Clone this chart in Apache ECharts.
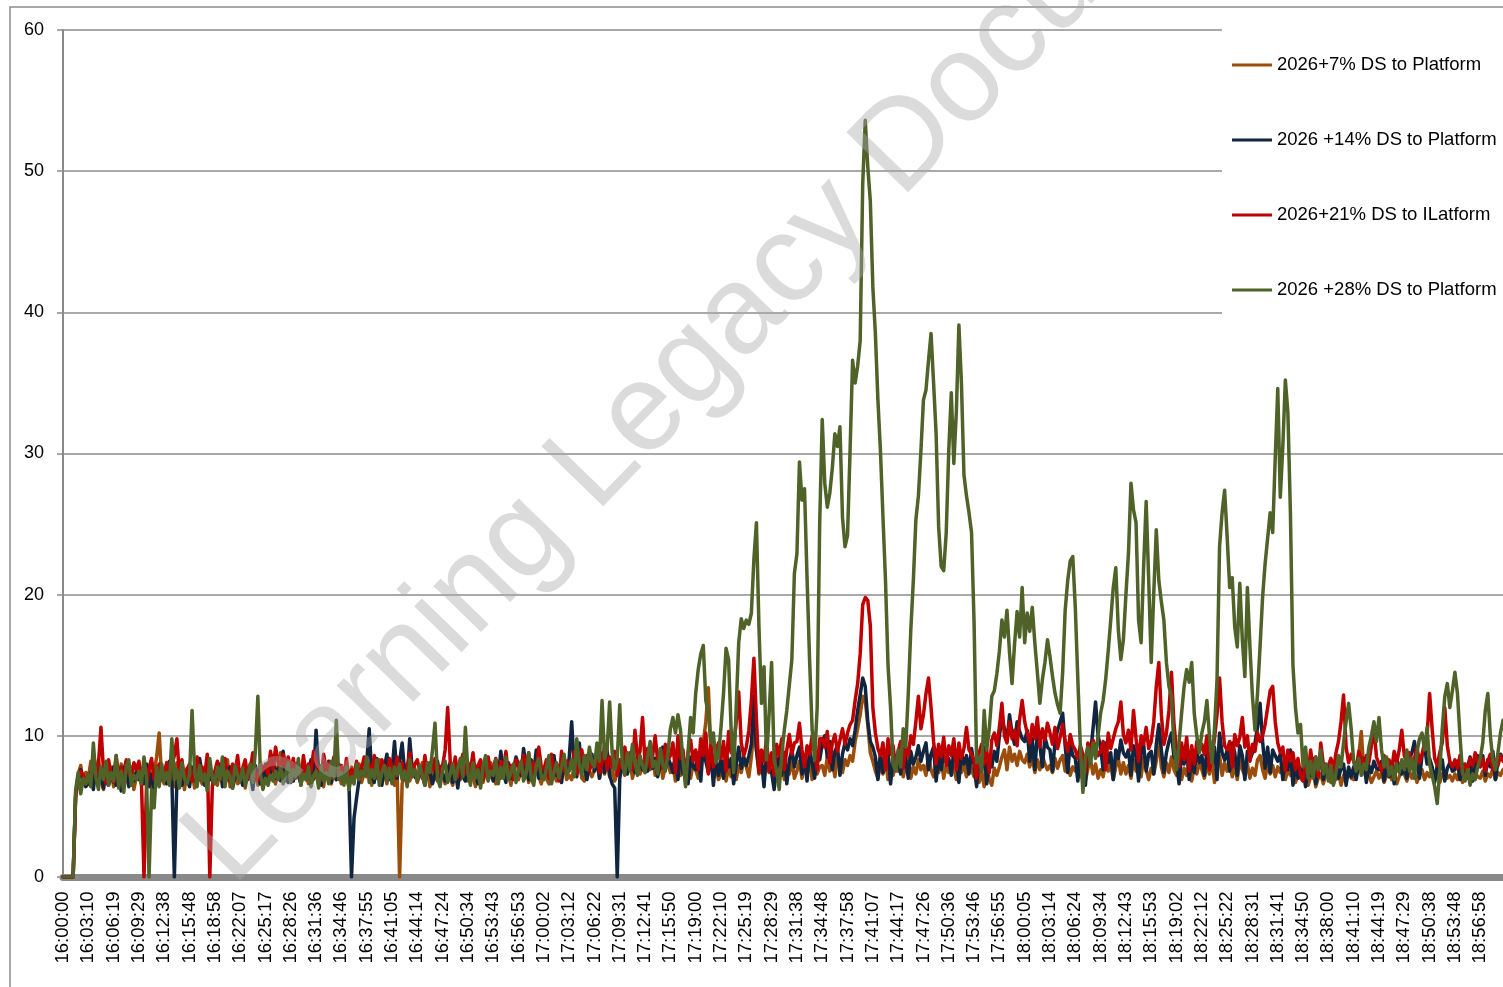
<!DOCTYPE html>
<html>
<head>
<meta charset="utf-8">
<title>DS to Platform</title>
<script src="https://cdn.jsdelivr.net/npm/echarts@6/dist/echarts.min.js"></script>
<style>
  html, body { margin: 0; padding: 0; background: #ffffff; }
  #chart { width: 1503px; height: 987px; }
</style>
</head>
<body>
<div id="chart"></div>
<script>
// Time-axis tick labels, one every ten samples
const timeLabels = [
  '16:00:00','16:03:10','16:06:19','16:09:29','16:12:38','16:15:48','16:18:58','16:22:07','16:25:17','16:28:26',
  '16:31:36','16:34:46','16:37:55','16:41:05','16:44:14','16:47:24','16:50:34','16:53:43','16:56:53','17:00:02',
  '17:03:12','17:06:22','17:09:31','17:12:41','17:15:50','17:19:00','17:22:10','17:25:19','17:28:29','17:31:38',
  '17:34:48','17:37:58','17:41:07','17:44:17','17:47:26','17:50:36','17:53:46','17:56:55','18:00:05','18:03:14',
  '18:06:24','18:09:34','18:12:43','18:15:53','18:19:02','18:22:12','18:25:22','18:28:31','18:31:41','18:34:50',
  '18:38:00','18:41:10','18:44:19','18:47:29','18:50:38','18:53:48','18:56:58'
];
const samplesPerLabel = 10;

const seriesNames = [
  '2026+7% DS to Platform',
  '2026 +14% DS to Platform',
  '2026+21% DS to ILatform',
  '2026 +28% DS to Platform'
];

// 2026 +7%
const ds07 = [
  0,0,0,0,0,5.7,7.3,7.9,6.6,7.4,
  7.0,8.2,6.5,7.6,8.3,6.9,6.2,7.4,6.8,7.8,
  6.4,7.5,6.9,8.0,6.3,7.2,6.6,7.8,6.2,7.1,
  7.6,6.5,7.2,6.8,7.9,6.3,7.4,8.5,10.2,7.0,
  6.6,7.8,6.9,7.3,6.4,8.1,6.8,7.5,6.2,7.7,
  6.9,7.5,6.3,8.0,7.1,6.6,7.7,6.4,7.3,6.8,
  7.4,6.5,7.9,6.7,7.2,8.3,6.4,7.0,7.7,6.6,
  6.8,7.6,6.3,7.4,8.0,6.7,7.3,6.5,7.8,7.0,
  7.5,6.9,8.2,7.1,6.6,7.9,8.8,7.2,6.8,7.6,
  6.7,7.4,7.0,8.1,6.5,7.8,7.2,6.6,7.5,6.9,
  7.3,6.8,7.7,6.4,7.9,7.1,6.6,7.6,6.9,7.4,
  6.6,7.5,7.0,6.4,7.8,6.9,7.3,8.0,6.7,7.4,
  7.1,7.8,6.5,7.6,7.0,8.3,6.8,7.4,6.6,7.9,
  7.2,6.5,7.6,0,6.6,7.4,8.0,6.8,7.3,7.7,
  6.7,7.3,8.1,6.9,7.5,6.4,7.9,7.1,6.8,7.6,
  7.4,6.6,7.8,7.0,6.5,7.7,7.2,6.9,8.0,7.3,
  6.8,7.5,7.1,6.4,7.9,7.2,6.7,7.6,7.0,8.1,
  7.3,6.6,7.7,7.0,8.2,6.9,7.4,6.5,7.8,7.1,
  6.9,7.6,7.2,8.0,6.7,7.4,6.9,7.8,7.1,6.6,
  7.5,7.0,6.6,7.9,7.3,6.8,7.7,7.2,8.1,6.9,
  7.2,6.9,7.8,7.4,8.3,7.0,6.8,8.0,7.5,7.1,
  7.6,8.2,7.0,7.9,7.3,8.5,7.1,7.7,6.8,7.4,
  7.5,8.0,7.2,7.8,8.4,7.0,7.7,8.2,7.3,7.9,
  7.4,8.1,7.6,8.5,7.2,7.9,8.3,7.0,7.8,8.2,
  7.4,8.0,6.8,7.6,7.2,8.4,6.7,7.8,7.0,8.0,
  7.6,7.0,8.2,9.5,11.0,13.4,9.0,7.1,7.9,6.9,
  7.3,8.2,6.8,7.8,7.1,8.6,6.9,7.9,7.4,8.3,
  7.8,7.1,8.5,10.5,9.0,7.3,8.0,7.0,8.3,7.4,
  7.6,6.8,8.2,7.2,8.6,6.9,7.9,7.3,8.3,7.0,
  7.5,8.2,7.0,7.9,7.2,8.5,6.9,8.1,7.3,7.8,
  7.9,7.2,8.5,7.5,8.2,7.1,8.6,7.8,7.4,8.3,
  7.9,8.6,8.2,9.6,10.5,11.5,12.8,12.5,10.8,8.8,
  8.2,7.5,7.0,8.0,7.3,8.4,6.9,7.8,7.2,8.1,
  7.5,8.2,7.1,7.9,8.5,7.0,7.8,7.3,8.3,7.6,
  7.9,7.2,8.6,7.6,7.1,8.1,7.4,8.4,7.0,7.9,
  7.4,8.2,7.7,6.9,8.5,7.4,8.0,7.1,8.3,7.6,
  7.1,7.8,6.7,7.5,6.4,8.0,6.9,6.5,7.7,7.2,
  7.8,8.5,9.0,7.6,9.2,8.2,8.7,7.9,8.9,8.3,
  8.1,8.7,7.8,8.5,7.4,8.3,7.6,8.6,8.0,7.6,
  7.9,7.4,8.4,7.7,8.3,8.6,7.5,8.1,7.2,7.8,
  7.5,8.1,7.1,7.8,6.8,7.7,8.3,7.3,8.0,7.0,
  7.6,7.1,8.2,7.5,8.0,6.9,7.8,8.4,7.3,8.1,
  7.3,7.9,7.0,8.3,7.5,8.0,7.1,8.5,7.6,6.9,
  7.7,7.3,8.2,9.8,7.8,7.1,8.1,7.4,8.5,7.6,
  7.2,7.9,6.9,7.7,7.2,8.2,6.8,7.8,7.3,8.1,
  7.6,7.0,8.0,7.3,8.3,6.7,7.8,8.6,7.2,8.1,
  7.5,8.2,7.1,7.9,6.9,8.4,7.6,7.2,8.0,7.0,
  7.7,7.2,8.3,8.6,7.6,7.0,8.1,7.3,7.9,7.1,
  7.8,7.4,8.1,6.9,7.6,7.2,8.0,6.7,7.3,7.0,
  6.8,7.4,6.5,7.1,7.7,6.4,7.0,7.3,6.6,7.2,
  7.1,6.7,7.5,6.9,7.4,6.5,7.2,6.8,7.6,7.0,
  6.9,7.4,8.6,10.3,7.5,7.0,7.3,6.7,7.1,7.5,
  7.0,7.4,6.7,7.2,7.6,6.9,7.3,6.6,7.1,7.5,
  7.3,6.8,7.5,7.0,7.4,6.7,7.2,7.6,6.9,7.4,
  7.1,7.7,6.9,7.4,6.7,7.3,7.5,7.0,7.2,6.8,
  7.3,6.9,7.6,6.7,7.2,7.0,7.5,6.8,7.4,7.1,
  7.0,7.5,6.8,7.3,7.1,7.7,6.9,7.4,7.2,7.6
];

// 2026 +14%
const ds14 = [
  0,0,0,0,0,5.9,6.8,7.6,7.0,6.4,
  6.6,7.4,6.2,7.9,6.7,7.2,6.3,8.1,6.5,7.0,
  7.8,6.5,7.3,6.1,7.6,8.2,6.4,7.1,6.8,7.5,
  6.9,7.7,6.6,8.0,6.4,7.3,6.1,7.8,6.7,7.2,
  7.5,6.6,8.2,7.0,0,6.8,7.9,6.5,7.4,6.9,
  6.4,7.8,7.0,6.6,8.4,7.2,6.5,7.6,6.9,7.4,
  6.7,7.3,8.0,6.4,7.6,6.9,7.8,6.3,7.1,7.9,
  7.2,6.5,7.7,6.9,7.4,6.2,7.9,7.1,6.6,7.5,
  6.9,8.1,7.4,8.6,7.0,7.7,6.8,8.9,7.3,6.7,
  7.4,6.8,8.0,7.2,6.6,7.9,6.9,7.5,8.3,7.0,
  10.4,7.6,6.5,7.8,7.1,8.2,6.7,7.4,6.9,8.0,
  7.3,6.8,7.5,6.6,0,4.2,5.6,6.9,7.8,7.2,
  8.1,10.5,7.2,6.7,8.4,7.0,6.5,7.8,8.7,6.9,
  7.5,9.6,7.0,8.2,9.5,7.4,6.8,9.8,7.6,7.1,
  6.9,7.7,7.2,6.5,8.0,7.4,6.6,7.3,8.2,7.0,
  7.3,6.8,7.6,8.1,6.7,7.5,6.3,7.9,7.1,6.8,
  7.6,6.9,8.2,7.3,6.6,7.8,7.0,8.4,6.9,7.5,
  6.8,8.3,7.1,8.9,7.4,6.7,8.1,7.0,7.6,8.5,
  7.9,7.2,9.1,7.6,6.9,8.3,7.4,9.0,7.0,7.7,
  7.3,8.0,7.5,6.8,8.6,7.2,7.9,6.7,8.2,7.6,
  8.4,11.0,7.8,7.1,9.5,7.6,8.2,6.9,7.9,8.7,
  7.5,8.3,7.0,8.8,7.4,9.0,7.2,6.6,6.3,0,
  7.0,7.9,8.5,7.3,8.0,8.8,7.4,7.9,8.3,7.6,
  8.2,7.5,8.9,7.7,8.4,7.1,8.0,9.2,7.6,8.5,
  8.0,7.4,8.6,6.9,9.1,7.3,8.2,6.6,8.5,7.8,
  7.6,8.8,6.8,9.3,8.2,7.4,8.7,6.5,8.5,7.2,
  8.3,7.0,8.9,7.8,8.4,6.6,8.0,9.2,7.7,8.5,
  7.9,8.6,9.4,12.8,9.0,7.6,8.3,6.4,8.8,7.7,
  7.4,6.2,7.9,8.5,7.2,8.8,6.6,8.3,9.0,7.8,
  8.6,9.2,7.3,8.4,6.8,9.0,8.1,7.0,8.8,8.3,
  9.4,10.0,8.5,9.6,7.6,8.9,9.3,7.2,8.7,9.5,
  9.0,9.8,9.3,10.4,11.8,12.9,14.1,13.5,11.0,9.6,
  9.2,8.5,6.9,8.8,7.4,8.2,9.0,6.6,8.4,7.9,
  8.6,7.3,9.1,8.3,7.0,8.9,8.0,8.5,9.3,8.2,
  8.9,9.5,7.6,8.7,9.2,6.8,8.5,7.6,8.8,8.1,
  8.4,7.2,9.0,8.3,6.7,8.8,8.0,8.6,7.3,9.1,
  7.9,6.4,8.4,7.5,9.2,6.6,8.6,7.8,8.9,8.2,
  10.0,11.2,10.5,9.6,11.5,10.2,9.4,11.0,10.3,9.8,
  9.6,10.4,8.2,9.8,7.6,10.1,9.3,7.8,9.9,9.2,
  9.0,7.5,9.6,10.4,11.0,11.6,9.3,7.4,9.5,8.6,
  8.4,6.8,8.9,8.2,6.5,9.4,8.7,10.5,12.4,10.0,
  9.2,7.6,9.5,8.1,8.8,6.9,9.0,8.4,9.7,8.8,
  8.5,9.0,7.2,9.3,8.6,6.8,8.8,9.4,7.5,8.7,
  8.9,7.3,9.4,10.8,9.0,7.4,8.8,9.6,10.2,8.5,
  8.2,6.6,8.7,8.0,9.1,6.9,8.5,7.4,8.9,8.1,
  8.6,7.2,9.0,7.7,8.4,9.2,6.9,10.2,8.8,8.3,
  9.0,7.5,9.5,8.8,7.2,9.3,8.6,6.9,8.9,8.3,
  8.8,9.5,10.6,12.3,9.6,7.7,9.2,7.4,9.0,8.6,
  8.2,8.7,6.9,8.4,7.6,9.0,6.5,8.1,7.0,7.7,
  7.5,6.4,7.9,7.2,8.4,6.6,7.6,8.8,6.9,7.9,
  7.2,7.9,6.6,8.3,7.0,7.7,8.0,6.5,7.8,7.1,
  7.8,6.9,8.1,7.6,8.4,6.7,7.9,7.4,8.2,7.7,
  7.6,8.2,6.8,7.9,7.1,8.0,6.6,8.4,7.7,7.3,
  7.9,7.0,8.3,8.8,9.6,8.2,7.0,8.6,9.2,8.0,
  8.4,7.8,6.7,7.9,7.6,8.3,6.8,7.7,8.1,7.5,
  7.6,8.2,6.9,8.0,7.1,7.8,8.5,6.8,7.9,8.6,
  8.0,8.6,7.2,8.3,7.8,8.9,6.9,8.2,8.7,8.4
];

// 2026 +21%
const ds21 = [
  0,0,0,0,0,5.8,6.9,7.5,7.2,6.6,
  7.3,6.8,8.4,7.1,8.0,10.6,7.5,6.6,8.3,7.2,
  6.7,8.6,7.0,7.8,6.5,8.3,7.4,6.9,8.1,7.6,
  8.2,6.8,0,6.5,7.7,8.4,6.9,7.5,8.0,7.1,
  7.4,8.1,6.7,7.9,8.6,9.8,7.2,8.3,6.9,7.6,
  8.0,6.8,7.6,8.5,6.9,7.8,7.2,8.7,0,6.4,
  7.5,8.2,6.9,7.8,8.4,7.1,6.8,8.0,7.4,8.6,
  6.9,7.7,8.3,7.0,7.6,8.8,7.2,6.8,8.1,7.5,
  8.0,7.3,8.9,7.6,9.2,8.1,7.4,8.7,7.8,8.5,
  7.6,8.4,7.1,7.9,6.8,8.6,7.3,8.0,7.5,8.9,
  8.2,7.4,6.9,8.7,7.6,8.1,7.0,8.5,7.7,7.2,
  7.9,7.1,8.4,6.8,7.6,7.3,8.2,6.9,7.7,8.5,
  7.4,8.0,7.2,8.6,7.5,6.9,8.3,7.7,7.0,8.4,
  7.8,7.0,8.5,7.4,8.1,6.9,7.7,8.8,7.3,8.0,
  8.3,7.5,7.0,8.6,7.3,8.1,7.6,8.4,7.1,7.8,
  7.9,9.0,12.0,8.2,7.4,8.5,7.1,7.8,8.7,7.3,
  8.1,7.5,8.8,7.2,7.9,8.3,6.9,7.6,8.5,7.4,
  7.7,8.4,7.0,8.2,7.5,8.9,7.3,7.9,6.9,8.3,
  8.0,7.4,8.6,7.9,8.8,7.2,8.1,7.6,9.2,7.8,
  7.6,8.3,7.0,8.7,7.4,8.0,6.8,8.9,7.5,8.2,
  8.1,7.7,8.9,7.3,8.4,9.0,7.8,8.6,7.5,8.2,
  7.9,8.7,7.4,8.1,9.3,7.6,8.5,7.8,8.9,7.2,
  8.3,7.7,9.2,8.0,8.8,7.6,10.4,8.4,8.9,11.3,
  8.0,9.1,7.8,8.6,10.0,8.2,8.9,7.7,9.4,8.3,
  8.6,9.5,7.4,10.0,8.4,9.0,7.1,8.8,9.7,8.2,
  9.0,7.6,9.8,8.6,10.2,7.3,9.4,7.8,8.9,9.5,
  8.4,9.6,7.5,10.3,8.8,9.2,11.0,13.1,9.5,8.6,
  9.2,10.4,12.5,15.5,11.2,7.4,9.0,8.2,9.8,7.5,
  8.8,7.2,9.4,8.6,9.8,7.6,9.0,10.1,8.7,9.5,
  9.6,10.9,9.0,7.8,9.3,8.7,10.0,9.1,7.6,9.8,
  9.8,9.2,10.3,8.1,9.5,10.1,8.9,9.7,10.5,9.4,
  10.2,10.8,11.1,12.5,13.7,15.8,19.3,19.8,19.6,17.8,
  12.0,10.2,9.1,8.6,9.5,7.6,9.8,8.7,9.3,7.8,
  8.9,9.6,7.7,9.2,8.6,10.0,9.4,11.0,12.8,10.5,
  11.5,13.0,14.1,12.0,9.6,8.0,9.4,8.5,9.9,7.9,
  9.3,8.6,9.8,7.6,9.5,8.4,9.1,10.6,9.0,8.7,
  8.2,7.0,8.8,9.4,8.0,9.0,7.4,9.7,10.2,9.3,
  10.6,12.3,10.0,9.5,11.0,9.8,10.4,9.3,11.2,12.5,
  11.0,10.2,9.5,10.8,9.8,11.3,9.2,10.5,9.7,10.9,
  10.2,9.4,10.6,9.1,9.9,10.8,9.6,8.9,10.1,9.3,
  9.0,8.4,9.3,8.7,7.4,9.5,8.8,9.7,9.2,8.6,
  8.9,9.6,7.6,10.2,9.1,9.8,10.5,11.0,12.4,10.1,
  9.5,10.4,9.0,11.8,9.8,8.2,10.0,9.4,10.6,9.1,
  9.6,11.0,13.5,15.2,11.5,9.4,10.2,11.8,14.5,10.8,
  9.0,7.8,9.5,8.3,9.9,7.5,9.3,8.0,9.6,8.9,
  9.4,8.7,10.0,7.6,8.5,9.8,11.5,14.1,11.0,9.3,
  9.0,9.6,7.8,10.1,9.3,9.9,11.3,9.2,10.0,8.2,
  9.4,8.9,10.2,9.6,10.0,10.8,12.0,13.2,13.5,11.0,
  9.5,8.8,9.2,7.5,9.0,8.2,8.8,7.6,8.4,7.2,
  6.8,8.1,7.4,9.0,7.6,8.5,7.1,9.5,8.0,7.5,
  7.9,8.4,7.5,8.8,9.6,11.0,12.9,9.2,8.1,8.7,
  8.2,7.6,8.9,8.4,7.9,8.6,8.1,9.3,10.6,8.5,
  8.0,7.5,8.6,7.8,8.3,7.6,8.9,8.1,9.0,10.4,
  8.6,8.0,8.8,7.7,8.4,9.2,8.1,8.7,9.5,10.0,
  13.0,10.5,8.4,7.9,8.8,9.5,12.0,9.3,8.2,7.8,
  8.3,7.7,8.6,7.3,8.0,7.6,8.4,7.9,8.8,8.1,
  7.8,8.4,7.5,8.2,8.7,7.6,8.3,7.9,8.6,8.2
];

// 2026 +28%
const ds28 = [
  0,0,0,0,0,6.2,7.4,5.9,7.0,6.6,
  7.3,6.4,9.5,7.0,6.2,7.8,6.9,8.2,6.5,7.4,
  6.8,8.6,6.3,7.5,6.0,7.8,8.3,6.5,7.2,6.9,
  7.5,6.6,8.5,7.0,0,6.2,4.9,7.8,6.4,8.0,
  6.8,7.4,6.5,9.8,6.9,7.6,6.3,8.1,7.0,6.6,
  7.2,11.8,7.5,6.4,7.9,6.8,7.3,6.1,8.4,7.0,
  6.6,7.8,6.9,8.5,6.4,7.5,7.1,6.3,7.9,7.2,
  6.8,7.7,6.5,7.3,8.0,6.7,8.9,12.8,7.4,6.2,
  7.0,6.5,7.2,6.8,7.5,6.9,7.8,6.6,7.3,8.1,
  6.7,7.6,7.1,8.4,6.5,7.3,6.9,7.8,6.4,7.2,
  7.5,6.3,7.9,6.8,7.4,6.6,8.2,7.0,11.1,6.9,
  7.4,6.5,7.8,6.2,7.1,6.6,8.0,6.9,7.5,7.2,
  8.5,6.7,7.6,7.0,8.3,6.5,7.4,7.9,6.8,7.7,
  6.6,7.8,7.2,8.0,6.9,7.5,6.4,8.3,7.1,7.6,
  6.8,7.9,7.2,6.5,8.1,7.4,9.0,10.9,7.0,6.4,
  7.6,8.2,6.7,7.3,8.0,6.9,7.7,8.4,7.1,10.6,
  7.4,6.5,8.1,7.0,7.6,6.3,7.9,8.6,6.8,7.5,
  7.2,8.3,6.6,7.8,7.0,8.5,6.9,7.4,8.0,6.7,
  7.6,8.2,6.8,7.3,8.8,7.0,6.5,7.9,8.4,7.1,
  6.9,7.7,8.6,6.6,7.4,8.1,7.0,7.8,8.7,7.3,
  7.5,8.3,7.1,9.8,8.0,7.2,8.6,7.6,9.2,8.1,
  7.8,9.5,8.2,12.5,8.4,9.0,12.4,8.8,7.6,8.3,
  12.2,8.0,7.3,8.8,7.6,9.4,8.1,7.2,8.6,7.9,
  7.4,8.5,9.6,7.8,8.2,7.3,9.1,8.0,7.5,8.7,
  10.5,11.3,10.2,11.5,10.4,8.2,6.4,8.9,11.3,10.2,
  13.0,14.7,15.8,16.4,12.5,11.6,9.5,10.2,8.1,8.6,
  10.6,13.0,16.2,15.4,10.5,7.4,12.0,16.6,18.3,17.6,
  18.2,17.9,18.7,22.5,25.1,17.7,12.3,14.9,8.3,11.5,
  15.2,8.3,7.5,6.2,8.6,10.4,11.8,13.6,15.4,21.5,
  22.9,29.4,26.7,27.5,21.2,15.4,10.5,8.3,12.0,25.1,
  32.4,27.9,26.2,27.2,29.0,31.4,30.5,31.9,25.5,23.4,
  24.2,30.2,36.6,35.0,36.2,38.0,49.1,53.6,50.3,47.9,
  41.8,38.5,33.8,30.2,25.5,21.0,15.0,12.0,8.0,7.5,
  9.0,7.8,10.5,9.2,13.0,17.5,21.0,25.3,27.0,30.2,
  33.8,34.5,36.6,38.5,35.0,31.4,24.8,22.0,21.7,24.4,
  30.2,34.3,29.3,33.0,39.1,35.0,28.5,27.0,25.8,24.4,
  18.0,8.1,8.5,7.5,11.8,9.0,10.5,12.8,13.2,14.4,
  16.0,18.2,17.0,18.9,15.9,13.7,16.5,18.8,17.0,20.5,
  16.6,18.7,17.4,19.1,16.6,14.5,12.3,14.0,15.2,16.8,
  15.6,14.2,13.0,12.2,11.6,14.5,18.9,21.0,22.4,22.7,
  19.1,14.0,9.2,6.0,8.5,9.2,8.0,9.5,8.4,10.0,
  11.6,12.5,14.0,16.0,18.2,20.5,21.9,17.5,15.4,16.8,
  20.0,22.9,27.9,26.0,25.1,18.2,16.6,22.0,26.6,21.0,
  15.2,20.1,24.6,21.0,19.5,18.2,15.2,13.5,12.8,9.2,
  7.6,9.5,11.6,13.5,14.7,13.8,15.2,11.6,10.0,8.8,
  10.2,11.0,12.5,10.0,8.1,10.5,14.0,23.4,25.8,27.4,
  24.1,20.5,21.2,17.7,16.3,20.8,16.8,14.2,20.5,16.3,
  12.8,10.4,13.0,16.3,19.8,22.2,24.0,25.8,24.4,29.7,
  34.6,26.9,30.5,35.2,32.9,25.8,15.0,12.0,10.2,10.8,
  7.8,9.2,7.0,8.2,7.0,8.5,7.6,9.0,7.3,8.0,
  6.8,7.9,6.5,7.4,8.6,7.8,9.5,11.0,12.3,10.5,
  8.2,7.5,8.4,7.2,8.0,7.6,9.2,10.0,11.0,9.6,
  11.3,9.0,7.8,8.5,7.2,7.8,6.9,8.0,7.4,8.3,
  7.6,9.0,7.5,8.4,7.0,8.8,9.8,10.2,9.0,10.6,
  8.0,7.2,6.4,5.2,7.5,10.5,12.8,13.7,12.0,13.2,
  14.5,13.0,10.0,7.4,6.8,7.6,6.5,7.3,6.9,7.8,
  8.4,9.5,11.8,13.0,10.0,8.3,7.6,8.8,10.2,11.1
];

// Category per sample; only every tenth carries a printed time
const categories = ds07.map((_, i) => (i % samplesPerLabel === 0 ? timeLabels[i / samplesPerLabel] : ''));

const FONT = "'Liberation Sans', Arial, sans-serif";
const AXIS_GREY = '#898989';
const lineColors = ['#9B4D0A', '#10253F', '#C00000', '#4F6228'];
const seriesData = [ds07, ds14, ds21, ds28];

const chart = echarts.init(document.getElementById('chart'), null, { renderer: 'canvas' });

chart.setOption({
  animation: false,
  backgroundColor: '#ffffff',
  grid: { left: 63, right: 0, top: 30, bottom: 110, containLabel: false },
  legend: {
    orient: 'vertical',
    left: 1222,
    top: 28,
    padding: [27, 10, 25, 10],
    itemGap: 55,
    itemWidth: 40,
    itemHeight: 3,
    itemTextGap: 4,
    icon: 'rect',
    backgroundColor: '#ffffff',
    textStyle: { fontFamily: FONT, fontSize: 18.5, color: '#000000', lineHeight: 20 },
    data: seriesNames
  },
  xAxis: {
    type: 'category',
    data: categories,
    boundaryGap: false,
    offset: 3.5,
    axisLine: { show: true, lineStyle: { color: AXIS_GREY, width: 7 } },
    axisTick: { show: false },
    splitLine: { show: false },
    axisLabel: {
      interval: samplesPerLabel - 1,
      rotate: 90,
      margin: 11,
      fontFamily: FONT,
      fontSize: 18.5,
      color: '#000000'
    }
  },
  yAxis: {
    type: 'value',
    min: 0,
    max: 60,
    interval: 10,
    axisLine: { show: true, lineStyle: { color: AXIS_GREY, width: 2 } },
    axisTick: { show: true, length: 6, lineStyle: { color: AXIS_GREY, width: 1.5 } },
    axisLabel: { margin: 19, fontFamily: FONT, fontSize: 18, color: '#000000' },
    splitLine: { show: true, lineStyle: { color: '#8c8c8c', width: 1.5 } }
  },
  series: seriesNames.map((name, k) => ({
    name: name,
    type: 'line',
    data: seriesData[k],
    symbol: 'none',
    showSymbol: false,
    color: lineColors[k],
    lineStyle: { color: lineColors[k], width: 3.5, cap: 'round', join: 'round' },
    emphasis: { disabled: true }
  })),
  graphic: [
    {
      type: 'polyline',
      silent: true,
      z: 0,
      shape: { points: [[10, 987], [10, 7], [1503, 7]] },
      style: { stroke: '#8c8c8c', lineWidth: 1.5, fill: 'none' }
    },
    {
      type: 'text',
      silent: true,
      z: 100,
      x: 253,
      y: 907,
      rotation: 0.8,
      style: {
        text: 'Learning Legacy Document',
        fontFamily: FONT,
        fontSize: 125,
        fill: 'rgba(170,170,170,0.42)',
        align: 'left',
        verticalAlign: 'bottom'
      }
    }
  ]
});
</script>
</body>
</html>
